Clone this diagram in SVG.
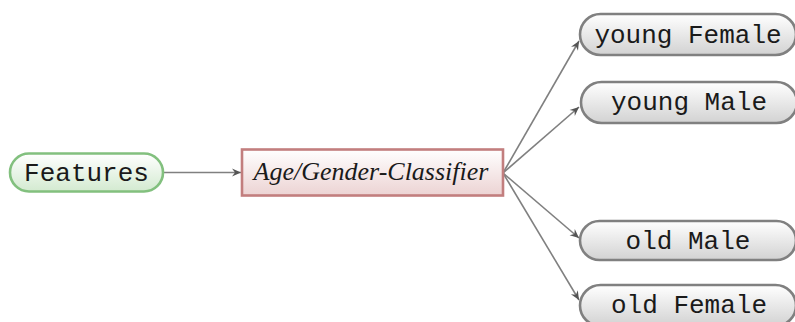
<svg xmlns="http://www.w3.org/2000/svg" width="795" height="322" viewBox="0 0 795 322">
<defs>
<linearGradient id="gGreen" x1="0" y1="0" x2="0" y2="1"><stop offset="0" stop-color="#ffffff"/><stop offset="1" stop-color="#d3ead0"/></linearGradient>
<linearGradient id="gRed" x1="0" y1="0" x2="0" y2="1"><stop offset="0" stop-color="#ffffff"/><stop offset="1" stop-color="#ecd3d3"/></linearGradient>
<linearGradient id="gGray" x1="0" y1="0" x2="0" y2="1"><stop offset="0" stop-color="#ffffff"/><stop offset="1" stop-color="#d2d2d2"/></linearGradient>
<marker id="arr" viewBox="-10 -5 12 10" refX="0" refY="0" markerWidth="12" markerHeight="10" markerUnits="userSpaceOnUse" orient="auto">
<path d="M0,0 L-9,-4 L-6,0 L-9,4 Z" fill="#555555"/>
</marker>
<style>
.mono{font-family:"Liberation Mono","DejaVu Sans Mono",monospace;font-size:26px;fill:#1a1a1a;text-anchor:middle}
.serif{font-family:"Liberation Serif","DejaVu Serif",serif;font-size:26px;font-style:italic;fill:#1a1a1a;text-anchor:middle}
.edge{stroke:#808080;stroke-width:1.6;fill:none;marker-end:url(#arr)}
.out{fill:url(#gGray);stroke:#808080;stroke-width:2.6}
</style>
</defs>
<g id="connectors">
<line class="edge" x1="163" y1="172.5" x2="241" y2="172.5"/>
<line class="edge" x1="503" y1="173" x2="579" y2="41"/>
<line class="edge" x1="503" y1="173" x2="579" y2="107"/>
<line class="edge" x1="503" y1="173" x2="579" y2="238"/>
<line class="edge" x1="503" y1="173" x2="579" y2="300"/>
</g>
<g id="features">
<rect x="10" y="153.5" width="153" height="38" rx="19" ry="19" fill="url(#gGreen)" stroke="#82c07e" stroke-width="2.6"/>
<text class="mono" x="86.5" y="180.5">Features</text>
</g>
<g id="classifier">
<rect x="242" y="149.5" width="261" height="46" fill="url(#gRed)" stroke="#c27e7e" stroke-width="2.6"/>
<text class="serif" x="371" y="180">Age/Gender-Classifier</text>
</g>
<g id="youngFemale">
<rect class="out" x="580" y="14" width="216" height="41" rx="20.5" ry="20.5"/>
<text class="mono" x="688" y="43">young Female</text>
</g>
<g id="youngMale">
<rect class="out" x="581" y="82" width="216" height="41" rx="20.5" ry="20.5"/>
<text class="mono" x="689" y="110">young Male</text>
</g>
<g id="oldMale">
<rect class="out" x="580" y="221" width="216" height="39" rx="19.5" ry="19.5"/>
<text class="mono" x="688" y="249">old Male</text>
</g>
<g id="oldFemale">
<rect class="out" x="580" y="285" width="216" height="41" rx="20.5" ry="20.5"/>
<text class="mono" x="689" y="313">old Female</text>
</g>
</svg>
